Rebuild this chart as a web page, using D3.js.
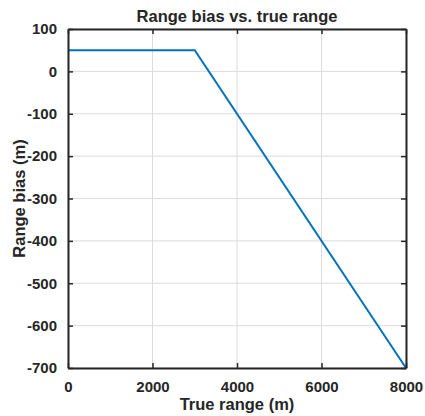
<!DOCTYPE html>
<html>
<head>
<meta charset="utf-8">
<script src="https://cdn.jsdelivr.net/npm/d3@7"></script>
<style>
body { margin: 0; background: #fff; }
text { font-family: "Liberation Sans", Arial, sans-serif; font-weight: bold; fill: #262626; }
</style>
</head>
<body>
<div id="chart"></div>
<script>
// data
var trueRange = [0, 3000, 8000];
var rangeBias = [50, 50, -700];
var xTicks = [0, 2000, 4000, 6000, 8000];
var yTicks = [100, 0, -100, -200, -300, -400, -500, -600, -700];

var w = 425, h = 416;
var margin = {top: 29, right: 19, bottom: 48, left: 68};
var pw = w - margin.left - margin.right;
var ph = h - margin.top - margin.bottom;
var axisColor = '#262626';

var svg = d3.select("#chart").append("svg")
  .attr("width", w)
  .attr("height", h);

var g = svg.append("g")
  .attr("transform", "translate(" + margin.left + "," + margin.top + ")");

var x = d3.scaleLinear().domain([0, 8000]).range([0, pw]);
var y = d3.scaleLinear().domain([-700, 100]).range([ph, 0]);

// plain hyphen like matlab, not the unicode minus
var fmt = function(d) { return String(d); };

// grid
g.selectAll(".gx").data(xTicks).enter().append("line")
  .attr("x1", d => x(d)).attr("x2", d => x(d))
  .attr("y1", 0).attr("y2", ph)
  .attr("stroke", "#dcdcdc").attr("stroke-width", 1);
g.selectAll(".gy").data(yTicks).enter().append("line")
  .attr("y1", d => y(d)).attr("y2", d => y(d))
  .attr("x1", 0).attr("x2", pw)
  .attr("stroke", "#dcdcdc").attr("stroke-width", 1);

// line
var line = d3.line()
  .x(function(d, i) { return x(trueRange[i]); })
  .y(function(d) { return y(d); });

g.append("path")
  .datum(rangeBias)
  .attr("d", line)
  .attr("fill", "none")
  .attr("stroke", "#0072BD")
  .attr("stroke-width", 2);

// axes, ticks inward on all four sides
function styleAxis(sel) {
  sel.select(".domain").attr("stroke", axisColor).attr("stroke-width", 2);
  sel.selectAll(".tick line").attr("stroke", axisColor).attr("stroke-width", 1.5);
  sel.selectAll(".tick text").attr("font-size", "15px").attr("fill", axisColor)
    .style("font-family", "'Liberation Sans', Arial, sans-serif").style("font-weight", "bold");
}

var xb = g.append("g").attr("transform", "translate(0," + ph + ")")
  .call(d3.axisBottom(x).tickValues(xTicks).tickSizeInner(-5).tickSizeOuter(0).tickPadding(13).tickFormat(fmt));
styleAxis(xb);

var xt = g.append("g")
  .call(d3.axisTop(x).tickValues(xTicks).tickSizeInner(-5).tickSizeOuter(0).tickFormat(""));
styleAxis(xt);

var yl = g.append("g")
  .call(d3.axisLeft(y).tickValues(yTicks).tickSizeInner(-5).tickSizeOuter(0).tickPadding(11).tickFormat(fmt));
styleAxis(yl);

var yr = g.append("g").attr("transform", "translate(" + pw + ",0)")
  .call(d3.axisRight(y).tickValues(yTicks).tickSizeInner(-5).tickSizeOuter(0).tickFormat(""));
styleAxis(yr);

// title and labels
svg.append("text")
  .attr("x", margin.left + pw / 2)
  .attr("y", 22)
  .attr("text-anchor", "middle")
  .attr("font-size", "16.5px")
  .text("Range bias vs. true range");

svg.append("text")
  .attr("x", margin.left + pw / 2)
  .attr("y", 410)
  .attr("text-anchor", "middle")
  .attr("font-size", "16.5px")
  .text("True range (m)");

svg.append("text")
  .attr("transform", "translate(25," + (margin.top + ph / 2) + ") rotate(-90)")
  .attr("text-anchor", "middle")
  .attr("font-size", "16.5px")
  .text("Range bias (m)");
</script>
</body>
</html>
